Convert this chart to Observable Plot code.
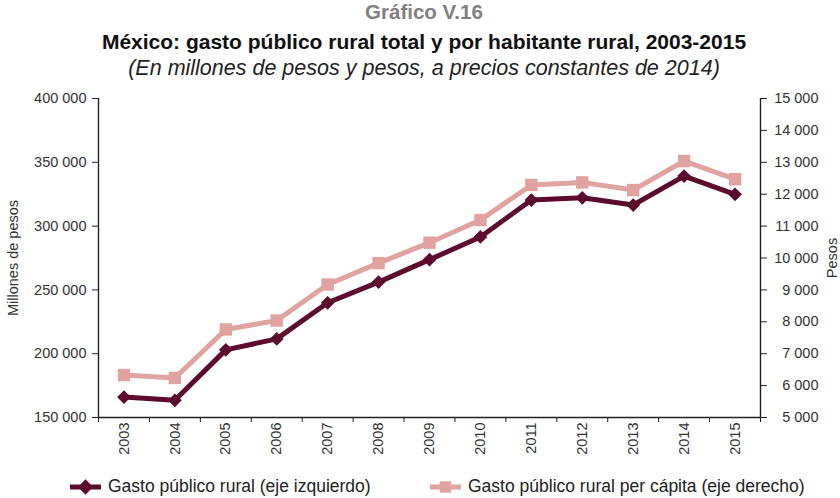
<!DOCTYPE html>
<html>
<head>
<meta charset="utf-8">
<script src="https://cdn.jsdelivr.net/npm/d3@7"></script>
<script src="https://cdn.jsdelivr.net/npm/@observablehq/plot@0.6"></script>
<style>
  body { margin: 0; background: #fff; font-family: "Liberation Sans", Arial, sans-serif; width: 840px; overflow: hidden; }
  .hdr { text-align: center; width: 840px; padding-left: 8px; box-sizing: border-box; white-space: nowrap; }
  .t0 { height: 26px; line-height: 24px; font-size: 20.5px; font-weight: bold; color: #808080; }
  .t1 { height: 30px; line-height: 32px; font-size: 21px; font-weight: bold; color: #111; }
  .t2 { height: 29px; line-height: 24px; font-size: 21.5px; font-style: italic; color: #222; }
  .legend { height: 38px; position: relative; font-size: 17.5px; color: #222; }
  .legend .item { display: flex; align-items: center; position: absolute; top: 16px; }
  .legend svg { margin-right: 7px; }
</style>
</head>
<body>
<div class="hdr t0">Gráfico V.16</div>
<div class="hdr t1">México: gasto público rural total y por habitante rural, 2003-2015</div>
<div class="hdr t2">(En millones de pesos y pesos, a precios constantes de 2014)</div>
<div id="chart"></div>
<div class="legend" id="legend"></div>
<script>
const years = [2003, 2004, 2005, 2006, 2007, 2008, 2009, 2010, 2011, 2012, 2013, 2014, 2015];
const gastoTotal = [166000, 163500, 203000, 211600, 239900, 256100, 273700, 291500, 320400, 322200, 316500, 339200, 324900];
const gastoPerCapita = [6330, 6240, 7760, 8040, 9170, 9840, 10480, 11190, 12290, 12370, 12130, 13040, 12470];
const leftTicks = [150000, 200000, 250000, 300000, 350000, 400000];
const rightTicks = [5000, 6000, 7000, 8000, 9000, 10000, 11000, 12000, 13000, 14000, 15000];
const seriesNames = ["Gasto público rural (eje izquierdo)", "Gasto público rural per cápita (eje derecho)"];
const colors = ["#5c0a2e", "#e0a3a0"];

const leftDomain = [leftTicks[0], leftTicks[leftTicks.length - 1]];
const rightDomain = [rightTicks[0], rightTicks[rightTicks.length - 1]];
const k = (leftDomain[1] - leftDomain[0]) / (rightDomain[1] - rightDomain[0]);
const toLeft = v => leftDomain[0] + (v - rightDomain[0]) * k;
const fromLeft = v => rightDomain[0] + (v - leftDomain[0]) / k;
const fmt = d => d3.format(",")(Math.round(d)).replace(/,/g, "\u00a0");

const data = years.map((y, i) => ({year: y, total: gastoTotal[i], percap: toLeft(gastoPerCapita[i])}));
const xDomain = [years[0] - 0.5, years[years.length - 1] + 0.5];
const boundaries = years.map(y => y - 0.5).concat([xDomain[1]]);

const axisColor = "#222";
const chart = Plot.plot({
  width: 840,
  height: 375,
  marginLeft: 98,
  marginRight: 80,
  marginTop: 13,
  marginBottom: 43,
  x: {domain: xDomain},
  y: {domain: leftDomain},
  style: {fontFamily: "'Liberation Sans', Arial, sans-serif", fontSize: "14px", color: "#333", background: "#fff"},
  marks: [
    Plot.axisY({ticks: leftTicks, tickFormat: fmt, tickSize: 6, tickPadding: 6, stroke: axisColor, fontSize: 14.5,
      label: "Millones de pesos", labelAnchor: "center", labelArrow: "none", labelOffset: 91}),
    Plot.axisY({anchor: "right", ticks: rightTicks.map(toLeft), tickFormat: d => fmt(fromLeft(d)), tickSize: 6, tickPadding: 52,
      textAnchor: "end", stroke: axisColor, fontSize: 14.5,
      label: "Pesos", labelAnchor: "center", labelArrow: "none", labelOffset: 76}),
    Plot.axisX({ticks: boundaries, tickFormat: () => "", tickSize: 5, stroke: axisColor, label: null}),
    Plot.axisX({ticks: years, tickFormat: d => String(d), tickSize: 0, tickPadding: 5, tickRotate: -90, label: null, fontSize: 14.5}),
    Plot.ruleY([leftDomain[0]], {stroke: axisColor, strokeWidth: 1.4}),
    Plot.ruleX(xDomain, {stroke: axisColor, strokeWidth: 1.4}),
    Plot.line(data, {x: "year", y: "percap", stroke: colors[1], strokeWidth: 5}),
    Plot.dot(data, {x: "year", y: "percap", symbol: "square", r: 7, fill: colors[1], stroke: "none"}),
    Plot.line(data, {x: "year", y: "total", stroke: colors[0], strokeWidth: 5}),
    Plot.dot(data, {x: "year", y: "total", symbol: "diamond2", r: 6.2, fill: colors[0], stroke: "none"})
  ]
});
document.getElementById("chart").appendChild(chart);

// legend
const legend = d3.select("#legend");
const positions = [70, 430];
const symbols = [d3.symbolDiamond2, d3.symbolSquare];
const sizes = [150, 130];
seriesNames.forEach((name, i) => {
  const item = legend.append("div").attr("class", "item").style("left", positions[i] + "px");
  const s = item.append("svg").attr("width", 31).attr("height", 16);
  s.append("line").attr("x1", 0).attr("x2", 31).attr("y1", 8).attr("y2", 8).attr("stroke", colors[i]).attr("stroke-width", 5);
  s.append("path").attr("transform", "translate(15.5,8)").attr("d", d3.symbol(symbols[i], sizes[i])()).attr("fill", colors[i]);
  item.append("span").text(name);
});
</script>
</body>
</html>
